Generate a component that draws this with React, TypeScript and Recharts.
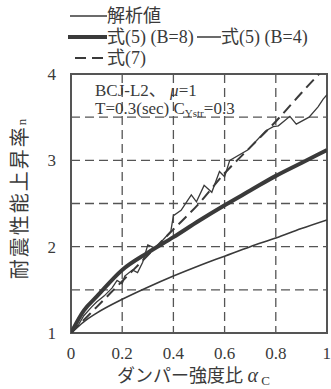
import React from 'react';
import {
  LineChart, Line, XAxis, YAxis, CartesianGrid, ReferenceArea, Customized,
} from 'recharts';

// 解析値 (analysis)
const alphaAnalysis = [0, 0.03, 0.05, 0.08, 0.10, 0.13, 0.16, 0.18, 0.20, 0.21, 0.24, 0.26, 0.28, 0.30, 0.33, 0.36, 0.39, 0.40, 0.43, 0.47, 0.49, 0.52, 0.55, 0.58, 0.60, 0.62, 0.69, 0.76, 0.79, 0.81, 0.855, 0.88, 0.93, 0.965, 0.985, 1.0];
const nAnalysis = [1.0, 1.1, 1.2, 1.3, 1.36, 1.43, 1.52, 1.61, 1.57, 1.66, 1.73, 1.70, 1.82, 2.02, 1.98, 2.08, 2.18, 2.36, 2.42, 2.60, 2.52, 2.71, 2.63, 2.87, 2.81, 3.0, 3.12, 3.34, 3.39, 3.40, 3.51, 3.42, 3.50, 3.62, 3.71, 3.76];

// 式(5) (B=8), 式(5) (B=4), 式(7)
const alphaFormula = [0, 0.05, 0.1, 0.2, 0.3, 0.4, 0.5, 0.6, 0.7, 0.8, 0.9, 1.0];
const nB8 = [1.0, 1.26, 1.42, 1.73, 1.93, 2.11, 2.30, 2.48, 2.65, 2.82, 2.97, 3.12];
const nB4 = [1.0, 1.13, 1.23, 1.39, 1.53, 1.66, 1.78, 1.89, 2.0, 2.1, 2.21, 2.31];
const nEq7 = [1.0, 1.15, 1.3, 1.6, 1.9, 2.2, 2.5, 2.85, 3.15, 3.45, 3.78, 4.1];

const xTicks = [0, 0.2, 0.4, 0.6, 0.8, 1];
const yTicks = [1, 2, 3, 4];
const xGrid = [0.2, 0.4, 0.6, 0.8];
const yGrid = [1.5, 2, 2.5, 3, 3.5];

const legendLabels = ['解析値', '式(5) (B=8)', '式(5) (B=4)', '式(7)'];

const toData = (xs: number[], ys: number[]) => xs.map((a, i) => ({ a, n: ys[i] }));
const dataAnalysis = toData(alphaAnalysis, nAnalysis);
const dataB8 = toData(alphaFormula, nB8);
const dataB4 = toData(alphaFormula, nB4);
const dataEq7 = toData(alphaFormula, nEq7);

const FONT = "'Liberation Serif', 'Noto Sans CJK JP', serif";
const INK = '#3a3a3a';

const Overlay = () => (
  <g fontFamily={FONT} fill={INK}>
    {/* legend */}
    <line x1={70} y1={16} x2={107} y2={16} stroke={INK} strokeWidth={1.5} />
    <text x={107} y={22} fontSize={18}>{legendLabels[0]}</text>
    <line x1={68} y1={37} x2={107} y2={37} stroke={INK} strokeWidth={4} />
    <text x={107} y={43} fontSize={18}>{legendLabels[1]}</text>
    <line x1={197} y1={37} x2={221} y2={37} stroke={INK} strokeWidth={1.5} />
    <text x={221} y={43} fontSize={18}>{legendLabels[2]}</text>
    <line x1={75} y1={58} x2={107} y2={58} stroke={INK} strokeWidth={2} strokeDasharray="11 6" />
    <text x={107} y={64} fontSize={18}>{legendLabels[3]}</text>
    {/* annotation */}
    <text x={95} y={96} fontSize={17}>BCJ-L2、 <tspan fontStyle="italic">μ</tspan>=1</text>
    <text x={95} y={114} fontSize={17}>
      T=0.3(sec)  C<tspan fontSize={11} dy={3}>Ystr</tspan><tspan dy={-3}>=0.3</tspan>
    </text>
    {/* y axis label */}
    <text
      transform="translate(27,198) rotate(-90)"
      textAnchor="middle"
      fontSize={20}
      letterSpacing={2}
    >
      耐震性能上昇率<tspan fontSize={13} dy={-1}>n</tspan>
    </text>
    {/* x axis label */}
    <text x={117} y={382} fontSize={18}>
      ダンパー強度比 <tspan fontStyle="italic" fontSize={20}>α</tspan><tspan fontSize={13} dy={3}> C</tspan>
    </text>
  </g>
);

export default function App() {
  return (
    <div style={{ position: 'absolute', left: 0, top: 0, background: '#fff' }}>
      <LineChart
        width={331}
        height={389}
        margin={{ top: 74, right: 4, left: 0, bottom: 0 }}
      >
        <CartesianGrid
          stroke="#555"
          strokeDasharray="9 5"
          strokeWidth={1.3}
          horizontalValues={yGrid}
          verticalValues={xGrid}
        />
        <XAxis
          type="number"
          dataKey="a"
          domain={[0, 1]}
          ticks={xTicks}
          height={56}
          tickLine={false}
          axisLine={false}
          tickSize={0}
          tickMargin={14}
          tick={{ fontSize: 17, fill: INK, fontFamily: FONT }}
          allowDataOverflow
        />
        <YAxis
          type="number"
          dataKey="n"
          domain={[1, 4]}
          ticks={yTicks}
          width={71}
          tickLine={false}
          axisLine={false}
          tickSize={0}
          tickMargin={15}
          tick={{ fontSize: 17, fill: INK, fontFamily: FONT }}
          allowDataOverflow
        />
        <ReferenceArea x1={0} x2={1} y1={1} y2={4} fill="none" stroke="#555" strokeWidth={2} ifOverflow="visible" />
        <Line data={dataB4} dataKey="n" type="monotone" stroke={INK} strokeWidth={1.6} dot={false} isAnimationActive={false} />
        <Line data={dataEq7} dataKey="n" type="monotone" stroke={INK} strokeWidth={2} strokeDasharray="11 6" dot={false} isAnimationActive={false} />
        <Line data={dataAnalysis} dataKey="n" type="linear" stroke={INK} strokeWidth={1.3} dot={false} isAnimationActive={false} />
        <Line data={dataB8} dataKey="n" type="monotone" stroke={INK} strokeWidth={4} dot={false} isAnimationActive={false} />
        <Customized component={Overlay} />
      </LineChart>
    </div>
  );
}
